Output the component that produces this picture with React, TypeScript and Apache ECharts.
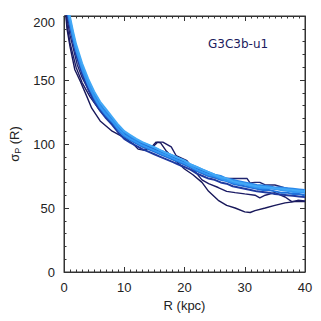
import React, { useEffect, useRef } from "react";
import * as echarts from "echarts";

// Shared radii for the band lines (kpc)
const bandR = [0.2, 0.5, 1, 1.5, 2, 3, 4, 5, 6, 7, 8, 9, 10, 11, 12, 13, 14, 15, 16, 17, 18, 19, 20, 21, 22, 23, 24, 25, 26, 27, 28, 29, 30, 31, 32, 33, 34, 35, 36, 37, 38, 39, 40];

const bandL1 = [222, 203, 191, 180, 170, 155, 143, 133, 126, 120, 115, 109, 104, 101, 98.5, 96, 94, 92, 90, 88, 86, 84, 82, 80, 77, 75, 73, 72, 70, 69, 67, 66, 65, 64, 63, 62.5, 62, 61, 60.5, 60, 59.5, 59, 58.5];
const bandL2 = [226, 208, 196, 185, 175, 160, 148, 138, 130, 124, 119, 113, 108, 105, 102, 100, 98, 96, 94, 92, 90, 88, 86, 83, 81, 79, 77, 75, 74, 72, 71, 70, 69, 68, 67, 66, 66, 65, 65, 64, 64, 63, 63];
const bandL3 = [224, 206, 194, 183, 173, 158, 146, 136, 128, 122, 117, 111, 106, 103, 100.5, 98, 96, 94, 92, 90, 88, 86, 84, 82, 79, 77, 75, 74, 72, 71, 69, 68, 67, 66, 65, 64, 64, 63, 62, 62, 61, 61, 60];
const bandL4 = [228, 210, 197, 186, 176, 161, 149, 139, 131, 125, 120, 114, 109, 106, 103, 101, 99, 97, 95, 93, 91, 89, 87, 84, 82, 80, 78, 76, 75, 73, 72, 71, 70, 69, 68, 67.5, 67, 66, 66, 65.5, 65, 64.5, 64];
const bandL5 = [225, 207, 195, 184, 174, 159, 147, 137, 129, 123, 118, 112, 107, 104, 101.5, 99, 97, 95, 93, 91, 89, 87, 85, 82.5, 80, 78, 76, 75, 73, 71.5, 70, 69, 68.5, 67, 66, 65.5, 65.5, 65, 64, 63.5, 62.5, 62.5, 62];
const bandL6 = [230, 212, 199, 188, 178, 163, 151, 141, 133, 127, 121, 115, 110, 107, 104, 101.5, 99.5, 97.5, 95, 93, 91, 89, 87, 84, 82, 80, 78, 76, 74, 73, 71, 70, 69, 68, 67, 66.5, 66, 65.5, 65, 64.5, 64, 63.5, 63];

// Dark navy lines with their own radii
const d1R = [0.2, 0.5, 1, 1.8, 2.7, 3.8, 4.6, 6, 8, 10, 11.5, 12.3, 13.4, 14.8, 15.3, 16, 16.9, 18.4, 20, 21.4, 22.9, 24, 25.6, 27, 28.4, 30, 30.9, 31.7, 33.4, 35, 36.7, 38.3, 40];
const d1V = [206, 190, 176, 158, 149, 137, 128, 118, 110, 105, 100, 96, 95, 99, 101.5, 101, 95, 87.5, 80.5, 76, 70, 63, 56, 52, 50, 47, 46.5, 48, 50, 52, 54, 55, 55];

const d2R = [0.2, 0.5, 1, 2, 3, 4.3, 6, 7.6, 9.3, 11.5, 13.4, 14.8, 15.6, 16.4, 17.8, 18.6, 20.4, 21.5, 22.9, 24, 25.6, 27, 28.4, 30, 31.7, 32.5, 33.4, 35, 36.7, 37.8, 38.8, 40];
const d2V = [210, 193, 179, 160, 148, 137, 126, 118, 110, 102, 97, 98, 101.5, 101.5, 97.7, 91, 87, 80, 72, 69, 66, 63, 62, 61, 60, 58, 60, 62, 58.6, 55, 56, 55.5];

const d3R = [0.2, 0.5, 1, 2.2, 3, 4.3, 6, 7.6, 10, 11.5, 14, 16, 18, 20, 22, 24, 25.6, 27, 28.4, 30.4, 30.9, 31.7, 32.5, 33.4, 35, 36.7, 38.3, 40];
const d3V = [214, 198, 185, 162, 152, 140, 128, 120, 108, 103, 97, 93, 88, 84, 79, 75, 73, 73, 73, 73, 69.5, 70, 70, 68, 68, 65.6, 64, 62.5];

const xTicks = [0, 10, 20, 30, 40];
const yTicks = [0, 50, 100, 150, 200];
const runLabel = "G3C3b-u1";
const xTitle = "R (kpc)";

const zip = (xs: number[], ys: number[]) => xs.map((x, i) => [x, ys[i]]);

const axisColor = "#333333";
const font = "Liberation Sans";

function frameAxis(pos: string, min: number, max: number, interval: number, minorSplit: number) {
  return {
    type: "value",
    position: pos,
    min,
    max,
    interval,
    axisLine: { show: true, onZero: false, lineStyle: { color: axisColor, width: 1 } },
    axisTick: { show: true, inside: true, length: 5, lineStyle: { color: axisColor, width: 1 } },
    minorTick: { show: true, splitNumber: minorSplit, length: 2.5, lineStyle: { color: axisColor, width: 1 } },
    splitLine: { show: false },
    axisLabel: { show: false },
  };
}

export default function App() {
  const ref = useRef<HTMLDivElement>(null);
  useEffect(() => {
    if (!ref.current) return;
    const chart = echarts.init(ref.current, null, { renderer: "svg" });
    const dark = [
      { r: d1R, v: d1V, c: "#18185a" },
      { r: d2R, v: d2V, c: "#1c1c66" },
      { r: d3R, v: d3V, c: "#20256f" },
    ];
    const band = [
      { v: bandL1, c: "#1e3aa0" },
      { v: bandL2, c: "#1c55c2" },
      { v: bandL3, c: "#1f70da" },
      { v: bandL4, c: "#2a88ea" },
      { v: bandL5, c: "#3397f2" },
      { v: bandL6, c: "#42a8f6" },
    ];
    const series: any[] = [];
    dark.forEach((d) =>
      series.push({
        type: "line",
        data: zip(d.r, d.v),
        showSymbol: false,
        clip: true,
        lineStyle: { color: d.c, width: 1.4 },
      })
    );
    band.forEach((b) =>
      series.push({
        type: "line",
        data: zip(bandR, b.v),
        showSymbol: false,
        clip: true,
        lineStyle: { color: b.c, width: 2 },
      })
    );
    const xMin = xTicks[0];
    const xMax = xTicks[xTicks.length - 1];
    const yMin = yTicks[0];
    const yMax = yTicks[yTicks.length - 1];
    chart.setOption({
      animation: false,
      title: {
        text: runLabel,
        left: 208,
        top: 38,
        padding: 0,
        textStyle: { color: "#1c1c5e", fontFamily: "DejaVu Sans", fontSize: 12, fontWeight: "normal" },
      },
      grid: { left: 64, top: 16, width: 241, height: 256, show: true, borderColor: axisColor, borderWidth: 1 },
      xAxis: [
        {
          ...frameAxis("bottom", xMin, xMax, 10, 10),
          axisLabel: { show: true, color: "#222", fontFamily: font, fontSize: 13, margin: 9 },
          name: xTitle,
          nameLocation: "middle",
          nameGap: 23,
          nameTextStyle: { color: "#222", fontFamily: font, fontSize: 13 },
        },
        frameAxis("top", xMin, xMax, 10, 10),
      ],
      yAxis: [
        {
          ...frameAxis("left", yMin, yMax, 50, 5),
          axisLabel: {
            show: true,
            color: "#222",
            fontFamily: font,
            fontSize: 13,
            margin: 9,
            verticalAlignMaxLabel: "top",
          },
          name: "{s|σ}{sub|P} {s|(R)}",
          nameLocation: "middle",
          nameGap: 36,
          nameTextStyle: {
            rich: {
              s: { fontFamily: font, fontSize: 13, color: "#222" },
              sub: { fontFamily: font, fontSize: 9, color: "#222", padding: [6, 0, 0, 0] },
            },
          },
        },
        frameAxis("right", yMin, yMax, 50, 5),
      ],
      series,
    });
    return () => chart.dispose();
  }, []);
  return (
    <div
      ref={ref}
      style={{ position: "fixed", left: 0, top: 0, width: 321, height: 321, background: "#fff" }}
    />
  );
}
